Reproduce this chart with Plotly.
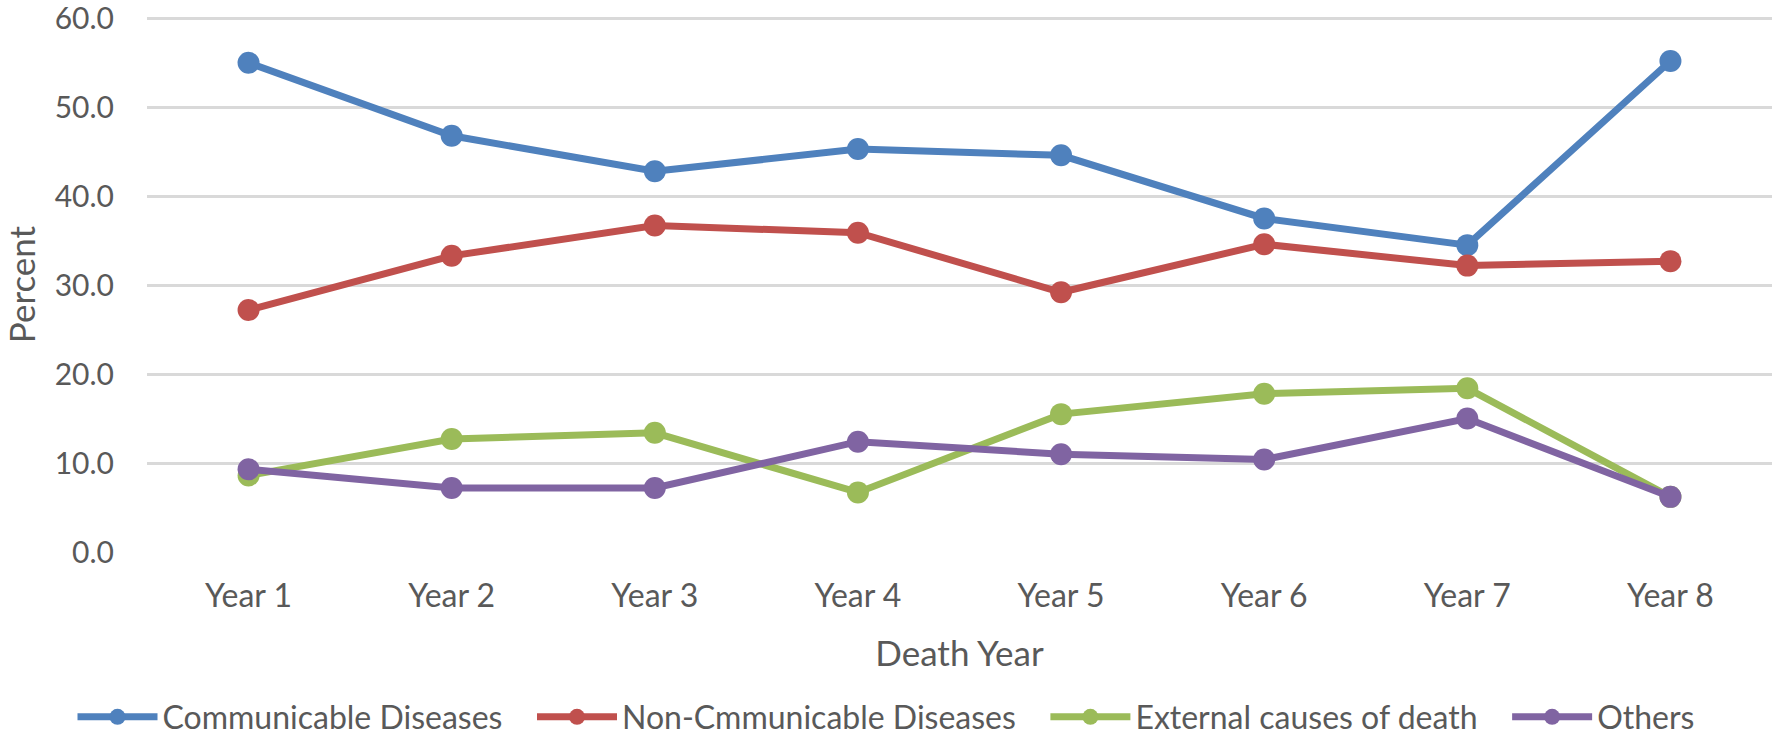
import plotly.graph_objects as go

years = ["Year 1", "Year 2", "Year 3", "Year 4", "Year 5", "Year 6", "Year 7", "Year 8"]
communicable = [55.0, 46.8, 42.8, 45.3, 44.6, 37.5, 34.5, 55.2]
non_communicable = [27.2, 33.3, 36.7, 35.9, 29.2, 34.6, 32.2, 32.7]
external = [8.6, 12.7, 13.4, 6.7, 15.5, 17.8, 18.4, 6.2]
others = [9.3, 7.2, 7.2, 12.4, 11.0, 10.4, 15.0, 6.2]

series_names = ["Communicable Diseases", "Non-Cmmunicable Diseases", "External causes of death", "Others"]
series_values = [communicable, non_communicable, external, others]
colors = ["#4F81BD", "#C0504D", "#9BBB59", "#8064A2"]

FONT = "Lato"
TXT = "#595959"
PAD = "\u00a0\u00a0\u00a0"

fig = go.Figure()
for i, (name, vals, c) in enumerate(zip(series_names, series_values, colors)):
    label = name + (PAD if i < len(series_names) - 1 else "")
    fig.add_trace(go.Scatter(
        x=years, y=vals, name=label, mode="lines+markers",
        line=dict(color=c, width=7),
        marker=dict(color=c, size=22),
        cliponaxis=False,
    ))

fig.update_layout(
    width=1772, height=740,
    paper_bgcolor="white", plot_bgcolor="white",
    margin=dict(l=147, r=0, t=17, b=188),
    font=dict(family=FONT, color=TXT, size=32),
    showlegend=True,
    legend=dict(
        orientation="h", xref="container", yref="container",
        x=0.5, xanchor="center", y=0.031, yanchor="middle",
        font=dict(family=FONT, color=TXT, size=32),
        itemwidth=80, tracegroupgap=0,
    ),
)
fig.update_xaxes(
    type="category", range=[-0.5, 7.5], showgrid=False, zeroline=False,
    showline=False, ticks="", tickfont=dict(size=32, color=TXT),
    ticklabelstandoff=22, automargin=False,
    title=dict(text="Death Year", font=dict(size=35, color=TXT), standoff=28),
)
fig.update_yaxes(
    range=[0, 60.15], tickvals=[0, 10, 20, 30, 40, 50, 60], tickformat=".1f", showgrid=True,
    gridcolor="#D9D9D9", gridwidth=2.5, zeroline=False, showline=False,
    ticks="", tickfont=dict(size=30, color=TXT), ticklabelstandoff=32,
    ticklabeloverflow="allow", automargin=False,
    title=dict(text="Percent", font=dict(size=35, color=TXT), standoff=11),
)

fig.write_html("out.html", config={"displayModeBar": False},
               post_script="document.body.style.margin='0';")
